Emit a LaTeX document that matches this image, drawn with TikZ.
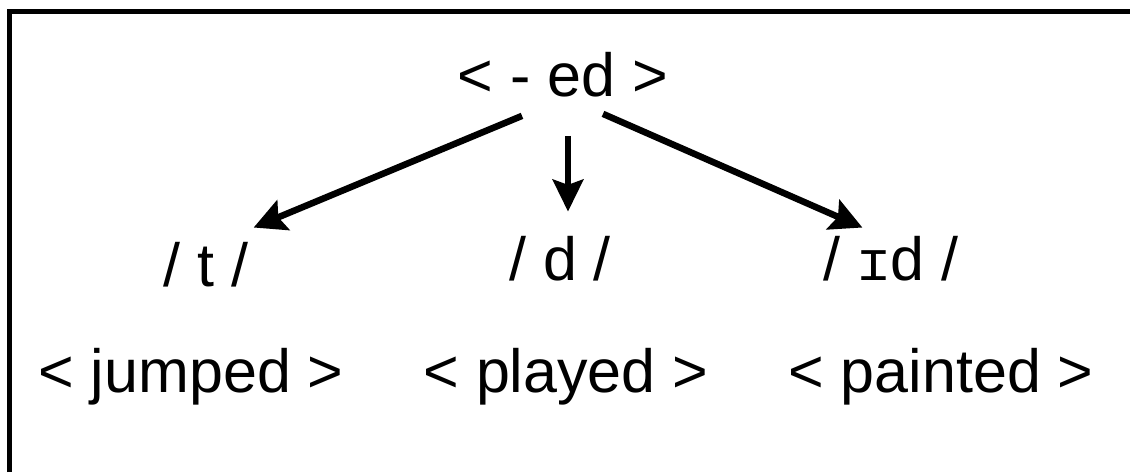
\documentclass[tikz,border=0pt]{standalone}
\usepackage{fontspec}
\setmainfont{Liberation Sans}
\newfontfamily\ipafont{DejaVu Sans Mono}
\usetikzlibrary{arrows.meta,calc}
\tikzset{
  lbl/.style={anchor=base,inner sep=0pt,font=\fontsize{45.75}{55}\selectfont},
  sidearrow/.style={line width=4.9pt,-{Stealth[length=24pt,width=24pt,inset=4pt]}},
  downarrow/.style={line width=4.2pt,-{Stealth[length=24pt,width=23pt,inset=4pt]}},
}
\begin{document}
\begin{tikzpicture}[x=0.75pt,y=0.75pt,yscale=-1,xscale=1]
	\useasboundingbox (0,0) rectangle (1130,472);

	%Shape: Frame (only its top and left sides lie inside the picture)
	\draw [line width=3.75pt] (9.5,472) -- (9.5,11.5) -- (1130,11.5);

	% Text Node
	\node [lbl] (ed) at (563,96) {< - ed >};
	% Text Node
	\node [lbl] (t) at (206,286) {/ t /};
	% Text Node
	\node [lbl] (d) at (560,280) {/ d /};
	% Text Node
	\node [lbl] (id) at (891,280) {/ {\ipafont\fontsize{41}{55}\selectfont ɪ}d /};
	% Text Node
	\node [lbl] (jumped) at (191,392) {< jumped >};
	% Text Node
	\node [lbl] (played) at (566,392) {< played >};
	% Text Node
	\node [lbl] (painted) at (941,392) {< painted >};

	%Straight Lines
	\draw [sidearrow] ($(ed.south)+(-41,19)$) -- ($(t.north east)+(5,-14)$);
	%Straight Lines
	\draw [downarrow] ($(ed.south)+(5,39)$) -- ($(d.north)+(8,-24)$);
	%Straight Lines
	\draw [sidearrow] ($(ed.south)+(40,17)$) -- ($(id.north west)+(39,-8)$);

\end{tikzpicture}
\end{document}
